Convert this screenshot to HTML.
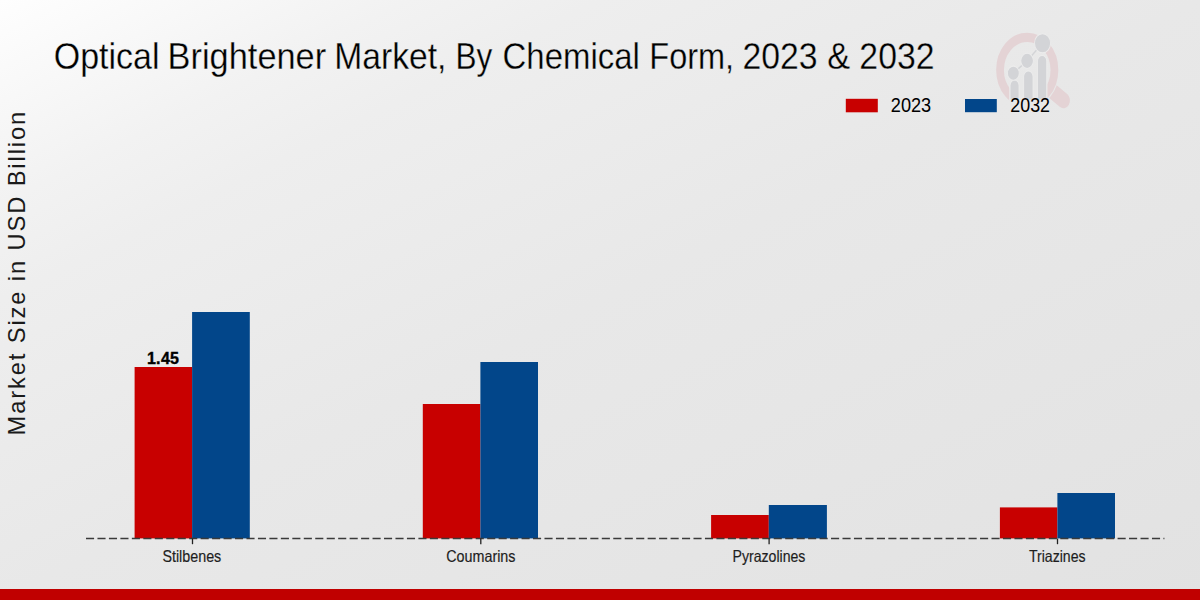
<!DOCTYPE html>
<html><head><meta charset="utf-8">
<style>
html,body{margin:0;padding:0;width:1200px;height:600px;overflow:hidden;}
body{background:#e8e8e8;}
svg{display:block;font-family:"Liberation Sans",sans-serif;}
</style></head>
<body>
<svg width="1200" height="600" viewBox="0 0 1200 600">
<defs>
<linearGradient id="bg" x1="0" y1="0" x2="480" y2="960" gradientUnits="userSpaceOnUse">
<stop offset="0" stop-color="#fefefe"/>
<stop offset="0.17" stop-color="#f2f2f2"/>
<stop offset="0.25" stop-color="#eeeeee"/>
<stop offset="0.5" stop-color="#e8e8e8"/>
<stop offset="1" stop-color="#e2e2e2"/>
</linearGradient>
</defs>
<rect width="1200" height="600" fill="url(#bg)"/>
<g id="logo" transform="translate(1027.24 69.98) scale(1 1.2)">
<clipPath id="hclip"><path clip-rule="evenodd" d="M-60 -60H80V80H-60Z M-32.18 0.00a32.18 32.18 0 1 0 64.36 0a32.18 32.18 0 1 0 -64.36 0Z"/></clipPath>
<line x1="20" y1="14" x2="36.2" y2="25.4" stroke="#e4d3d5" stroke-width="13" stroke-linecap="round" clip-path="url(#hclip)"/>
<circle cx="0" cy="0" r="27.19" fill="none" stroke="#e4d3d5" stroke-width="7.78"/>
<rect x="-17.9" y="7" width="38" height="26" fill="#e8e8e8"/>
<g fill="#d3d4d7" stroke="#ececec" stroke-width="0.9">
<path d="M-17.2 25V12.9a4.5 4.5 0 0 1 9 0V25Z"/>
<path d="M-3.6 25V5.45a4.7 4.7 0 0 1 9.4 0V25Z"/>
<path d="M10.3 25V-7.55a4.6 4.6 0 0 1 9.2 0V25Z"/>
<path d="M-13.9 2.7L-0.14 -7.6L15.3 -22.3" fill="none" stroke="#d3d4d7" stroke-width="1.3"/>
<circle cx="-13.9" cy="2.7" r="5.9"/>
<circle cx="-0.14" cy="-7.6" r="6.3"/>
<circle cx="15.3" cy="-22.3" r="8.0"/>
</g>
</g>
<text id="t0" x="53.70" y="68.80" font-size="37" textLength="105.80" lengthAdjust="spacingAndGlyphs" fill="#000" stroke="url(#bg)" stroke-width="0.3">Optical</text>
<text id="t1" x="167.60" y="68.80" font-size="37" textLength="158.60" lengthAdjust="spacingAndGlyphs" fill="#000" stroke="url(#bg)" stroke-width="0.3">Brightener</text>
<text id="t2" x="334.30" y="68.80" font-size="37" textLength="112.15" lengthAdjust="spacingAndGlyphs" fill="#000" stroke="url(#bg)" stroke-width="0.3">Market,</text>
<text id="t3" x="455.40" y="68.80" font-size="37" textLength="36.80" lengthAdjust="spacingAndGlyphs" fill="#000" stroke="url(#bg)" stroke-width="0.3">By</text>
<text id="t4" x="502.60" y="68.80" font-size="37" textLength="137.20" lengthAdjust="spacingAndGlyphs" fill="#000" stroke="url(#bg)" stroke-width="0.3">Chemical</text>
<text id="t5" x="649.30" y="68.80" font-size="37" textLength="84.85" lengthAdjust="spacingAndGlyphs" fill="#000" stroke="url(#bg)" stroke-width="0.3">Form,</text>
<text id="t6" x="742.50" y="68.80" font-size="37" textLength="75.15" lengthAdjust="spacingAndGlyphs" fill="#000" stroke="url(#bg)" stroke-width="0.3">2023</text>
<text id="t7" x="827.35" y="68.80" font-size="37" textLength="22.95" lengthAdjust="spacingAndGlyphs" fill="#000" stroke="url(#bg)" stroke-width="0.3">&amp;</text>
<text id="t8" x="859.35" y="68.80" font-size="37" textLength="75.15" lengthAdjust="spacingAndGlyphs" fill="#000" stroke="url(#bg)" stroke-width="0.3">2032</text>
<rect x="845.8" y="98.8" width="32" height="13.5" fill="#c80000"/>
<text id="leg0" x="890.80" y="112.30" font-size="20" textLength="40.40" lengthAdjust="spacingAndGlyphs" fill="#000">2023</text>
<rect x="965" y="99" width="31.8" height="13.2" fill="#02468a"/>
<text id="leg1" x="1010.30" y="112.30" font-size="20" textLength="39.70" lengthAdjust="spacingAndGlyphs" fill="#000">2032</text>
<text id="ylab" transform="translate(24.70,435.40) rotate(-90)" x="0" y="0" font-size="23.7" textLength="323.60" lengthAdjust="spacing" fill="#1a1a1a">Market Size in USD Billion</text>
<rect x="134.60" y="367.00" width="57.50" height="171.40" fill="#c80000"/>
<rect x="192.10" y="312.00" width="57.70" height="226.40" fill="#02468a"/>
<rect x="422.80" y="404.00" width="57.60" height="134.40" fill="#c80000"/>
<rect x="480.40" y="362.00" width="57.60" height="176.40" fill="#02468a"/>
<rect x="711.10" y="515.00" width="57.70" height="23.40" fill="#c80000"/>
<rect x="768.80" y="505.00" width="58.10" height="33.40" fill="#02468a"/>
<rect x="999.90" y="507.40" width="57.50" height="31.00" fill="#c80000"/>
<rect x="1057.40" y="493.00" width="57.60" height="45.40" fill="#02468a"/>
<line x1="86" y1="538.5" x2="1164.4" y2="538.5" stroke="#3a3a3a" stroke-width="1.6" stroke-dasharray="8.1 3.362"/>
<line x1="192.5" y1="538.6" x2="192.5" y2="544.2" stroke="#222" stroke-width="1.3"/>
<line x1="480.8" y1="538.6" x2="480.8" y2="544.2" stroke="#222" stroke-width="1.3"/>
<line x1="769.1" y1="538.6" x2="769.1" y2="544.2" stroke="#222" stroke-width="1.3"/>
<line x1="1057.5" y1="538.6" x2="1057.5" y2="544.2" stroke="#222" stroke-width="1.3"/>
<text id="val" x="146.90" y="364.30" font-size="16" textLength="32.10" lengthAdjust="spacing" fill="#000" font-weight="bold" stroke="#000" stroke-width="0.35">1.45</text>
<text id="cat0" x="162.40" y="561.75" font-size="16.5" textLength="58.90" lengthAdjust="spacingAndGlyphs" fill="#1e1e1e" stroke="#1e1e1e" stroke-width="0.18">Stilbenes</text>
<text id="cat1" x="446.20" y="561.75" font-size="16.5" textLength="69.30" lengthAdjust="spacingAndGlyphs" fill="#1e1e1e" stroke="#1e1e1e" stroke-width="0.18">Coumarins</text>
<text id="cat2" x="732.50" y="561.75" font-size="16.5" textLength="72.90" lengthAdjust="spacingAndGlyphs" fill="#1e1e1e" stroke="#1e1e1e" stroke-width="0.18">Pyrazolines</text>
<text id="cat3" x="1028.90" y="561.75" font-size="16.5" textLength="56.70" lengthAdjust="spacingAndGlyphs" fill="#1e1e1e" stroke="#1e1e1e" stroke-width="0.18">Triazines</text>
<rect x="0" y="589" width="1200" height="11" fill="#c00000"/>
</svg>
</body></html>
